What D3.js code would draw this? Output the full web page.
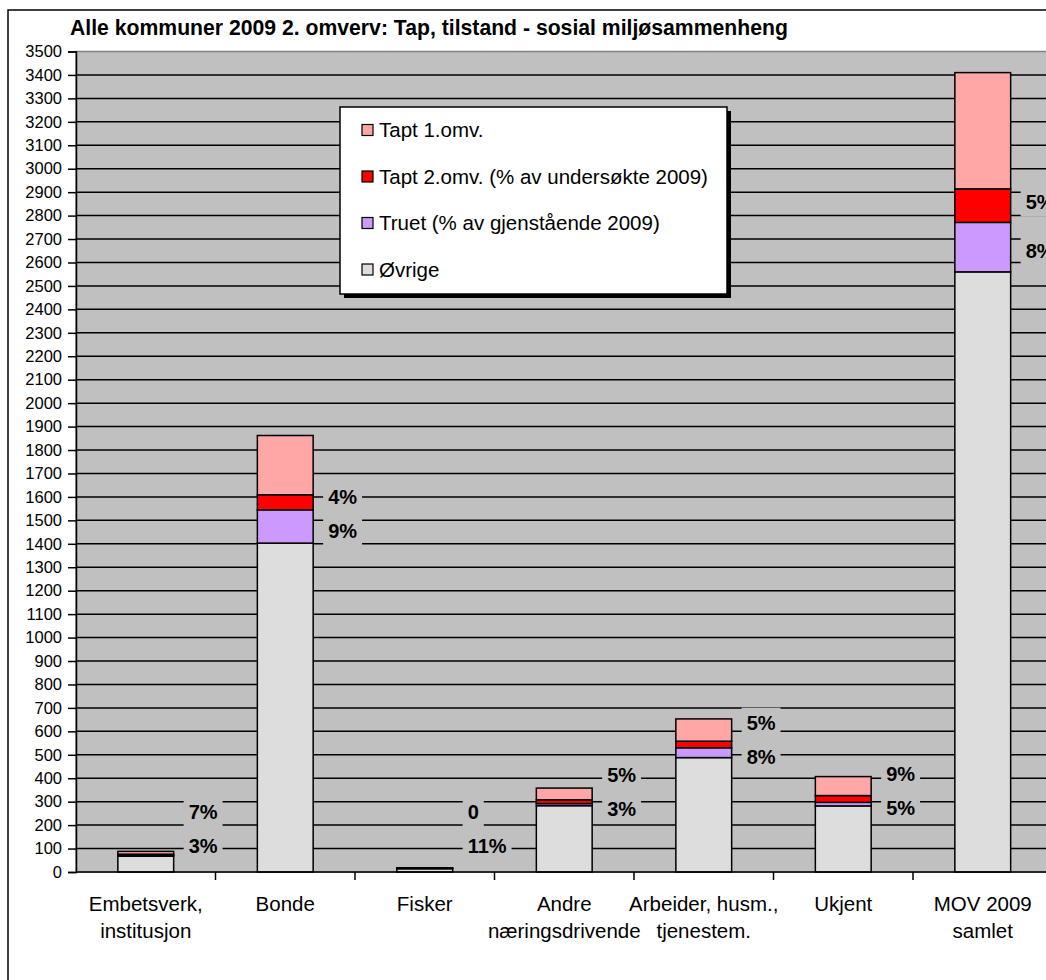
<!DOCTYPE html>
<html>
<head>
<meta charset="utf-8">
<script src="https://cdn.jsdelivr.net/npm/d3@7"></script>
<style>
  body { margin: 0; background: #fff; }
  text { font-family: Arial, "Liberation Sans", sans-serif; fill: #000; }
</style>
</head>
<body>
<svg id="chart" width="1046" height="980"></svg>
<script>
// Data
const categories = ["Embetsverk,\ninstitusjon", "Bonde", "Fisker", "Andre\nnæringsdrivende",
                    "Arbeider, husm.,\ntjenestem.", "Ukjent", "MOV 2009\nsamlet"];
const ovrige = [68, 1403, 14, 283, 488, 282, 2560];
const truet  = [2, 142, 2, 9, 42, 15, 211];
const tapt2  = [6, 64, 0, 16, 28, 29, 143];
const tapt1  = [12, 253, 2, 50, 95, 81, 496];
const tapt2Pct = [7, 4, 0, 5, 5, 9, 5];
const truetPct = [3, 9, 11, 3, 8, 5, 8];
const seriesKeys = ["ovrige", "truet", "tapt2", "tapt1"];
const legendNames = ["Tapt 1.omv.", "Tapt 2.omv. (% av undersøkte 2009)", "Truet (% av gjenstående 2009)", "Øvrige"];
const yTicks = d3.range(0, 3501, 100);
const title = "Alle kommuner 2009 2. omverv: Tap, tilstand - sosial miljøsammenheng";

const colors = { tapt1: "#ffa6a6", tapt2: "#ff0000", truet: "#cc99ff", ovrige: "#dddddd" };
const plotBg = "#c0c0c0";

const svg = d3.select("#chart");
const plot = { left: 76, top: 51.5, right: 1052.5, bottom: 872 };

// chart frame
svg.append("rect")
    .attr("x", 8).attr("y", 10).attr("width", 1200).attr("height", 1200)
    .attr("fill", "#fff").attr("stroke", "#000").attr("stroke-width", 1.5);

const rows = categories.map((c, i) => ({
    cat: c, ovrige: ovrige[i], truet: truet[i], tapt2: tapt2[i], tapt1: tapt1[i]
}));

const x = d3.scaleBand().domain(categories).range([plot.left, plot.right])
    .paddingInner(0.6).paddingOuter(0.3);
const y = d3.scaleLinear().domain([0, 3500]).range([plot.bottom, plot.top]);
const step = x.step();

// plot area
svg.append("rect")
    .attr("x", plot.left).attr("y", plot.top)
    .attr("width", plot.right - plot.left).attr("height", plot.bottom - plot.top)
    .attr("fill", plotBg).attr("stroke", "#808080").attr("stroke-width", 1.5);

// gridlines
svg.append("g").selectAll("line")
    .data(yTicks.filter(d => d > 0 && d < 3500))
    .enter().append("line")
    .attr("x1", plot.left).attr("x2", plot.right)
    .attr("y1", d => y(d)).attr("y2", d => y(d))
    .attr("stroke", "#000").attr("stroke-width", 1.5);

// stacked bars
const stacked = d3.stack().keys(seriesKeys)(rows);
svg.append("g").selectAll("g")
    .data(stacked)
    .enter().append("g")
    .attr("fill", d => colors[d.key])
    .selectAll("rect")
    .data(d => d)
    .enter().append("rect")
    .attr("x", d => x(d.data.cat))
    .attr("width", x.bandwidth())
    .attr("y", d => y(d[1]))
    .attr("height", d => y(d[0]) - y(d[1]))
    .attr("stroke", "#000").attr("stroke-width", 1.5);

// data labels (Truet and Tapt 2.omv. shares)
const labels = [];
stacked[0].forEach((d, i) => {
    const tr = stacked[1][i], t2 = stacked[2][i];
    const trY = Math.min((y(tr[0]) + y(tr[1])) / 2 + 4, plot.bottom - 26);
    const t2Y = Math.min((y(t2[0]) + y(t2[1])) / 2 - 4, trY - 34);
    const bx = x(d.data.cat) + x.bandwidth();
    labels.push({ x: bx, y: trY, text: truetPct[i] + "%" });
    labels.push({ x: bx, y: t2Y, text: tapt2Pct[i] === 0 ? "0" : tapt2Pct[i] + "%" });
});

const lab = svg.append("g").selectAll("g")
    .data(labels).enter().append("g")
    .attr("transform", d => `translate(${d.x + 10},${d.y})`);
lab.append("rect").attr("fill", plotBg).attr("y", -15).attr("height", 30);
lab.append("text")
    .attr("x", 5).attr("dy", "0.36em")
    .style("font-size", "20px").style("font-weight", "bold")
    .text(d => d.text);
lab.each(function () {
    const w = d3.select(this).select("text").node().getComputedTextLength();
    d3.select(this).select("rect").attr("width", w + 10);
});

// y axis
const yAxis = svg.append("g")
    .attr("transform", `translate(${plot.left},0)`)
    .call(d3.axisLeft(y).tickValues(yTicks).tickSize(8).tickPadding(6).tickFormat(d3.format("d")));
yAxis.select(".domain").attr("stroke", "#000").attr("stroke-width", 1.5);
yAxis.selectAll(".tick line").attr("stroke", "#000").attr("stroke-width", 1.5);
yAxis.selectAll(".tick text").style("font-size", "16.5px").attr("fill", "#000");

// x axis
svg.append("line")
    .attr("x1", plot.left).attr("x2", plot.right)
    .attr("y1", plot.bottom).attr("y2", plot.bottom)
    .attr("stroke", "#000").attr("stroke-width", 1.5);
svg.append("g").selectAll("line")
    .data(categories)
    .enter().append("line")
    .attr("x1", d => x(d) + x.bandwidth() / 2 + step / 2)
    .attr("x2", d => x(d) + x.bandwidth() / 2 + step / 2)
    .attr("y1", plot.bottom).attr("y2", plot.bottom + 8)
    .attr("stroke", "#000").attr("stroke-width", 1.5);

const xl = svg.append("g").selectAll("text")
    .data(categories)
    .enter().append("text")
    .attr("text-anchor", "middle")
    .style("font-size", "20.5px");
xl.selectAll("tspan")
    .data(d => d.split("\n").map(t => ({ t, c: d })))
    .enter().append("tspan")
    .attr("x", d => x(d.c) + x.bandwidth() / 2)
    .attr("y", (d, i) => 911 + i * 27)
    .text(d => d.t);

// title
svg.append("text")
    .attr("x", 70).attr("y", 35)
    .style("font-size", "21.2px").style("font-weight", "bold")
    .text(title);

// legend
const lg = { x: 340, y: 107, w: 387, h: 187 };
svg.append("rect")
    .attr("x", lg.x + 4).attr("y", lg.y + 4).attr("width", lg.w).attr("height", lg.h)
    .attr("fill", "#000");
svg.append("rect")
    .attr("x", lg.x).attr("y", lg.y).attr("width", lg.w).attr("height", lg.h)
    .attr("fill", "#fff").attr("stroke", "#000").attr("stroke-width", 1.5);
const legendColors = [colors.tapt1, colors.tapt2, colors.truet, colors.ovrige];
const li = svg.append("g").selectAll("g")
    .data(legendNames).enter().append("g")
    .attr("transform", (d, i) => `translate(${lg.x + 22},${lg.y + 23 + i * 46.5})`);
li.append("rect")
    .attr("x", 0).attr("y", -5.5).attr("width", 11).attr("height", 11)
    .attr("fill", (d, i) => legendColors[i]).attr("stroke", "#000").attr("stroke-width", 1.2);
li.append("text")
    .attr("x", 17).attr("dy", "0.36em")
    .style("font-size", "20.5px")
    .text(d => d);
</script>
</body>
</html>
